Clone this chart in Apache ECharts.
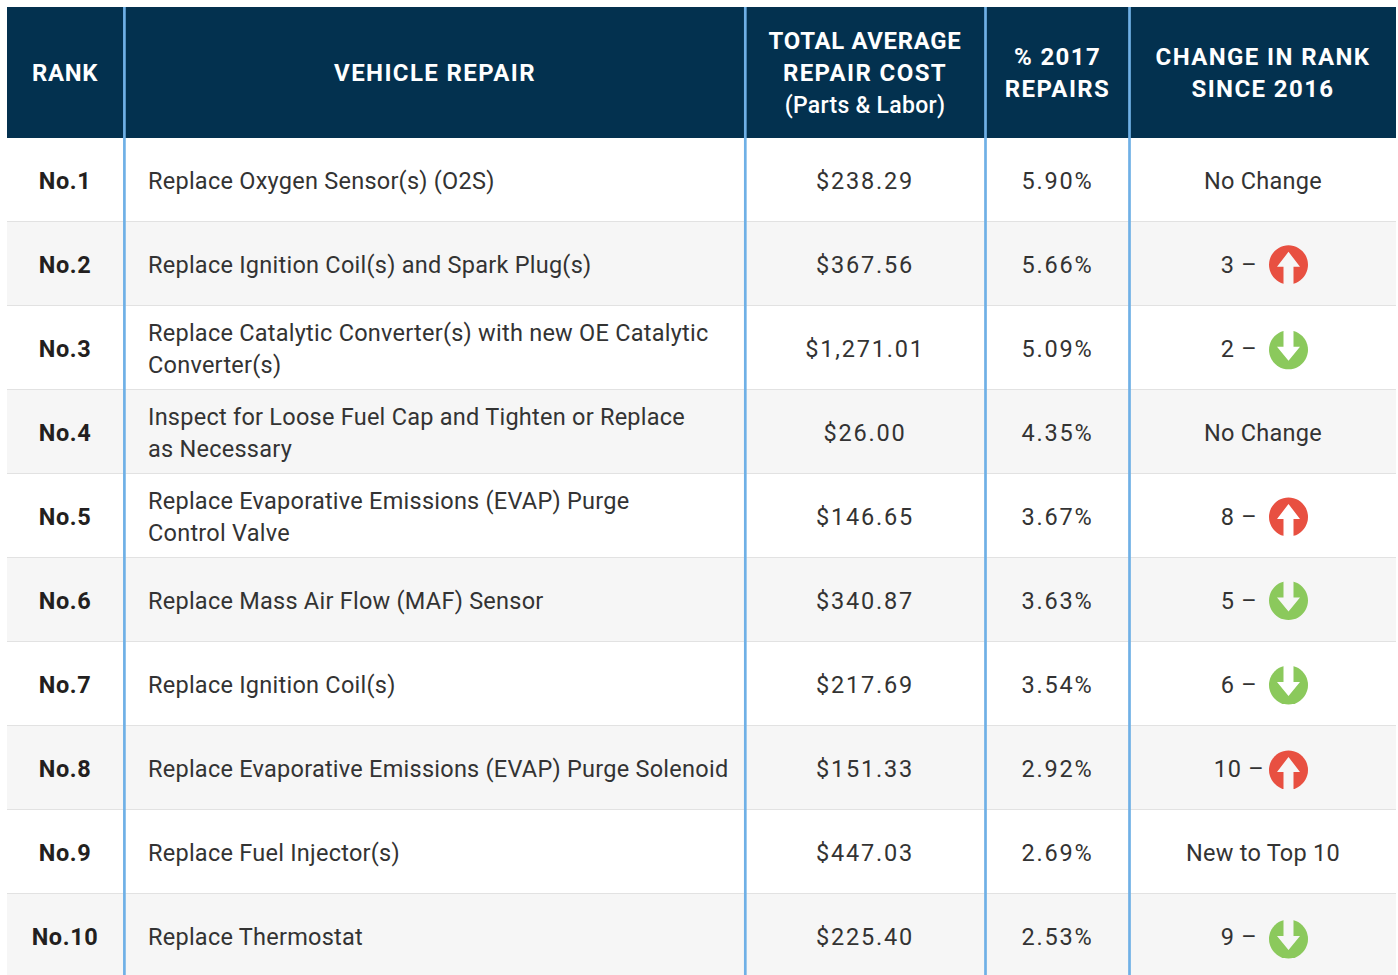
<!DOCTYPE html>
<html><head><meta charset="utf-8">
<style>
html,body{margin:0;padding:0;background:#fff}
#c{width:1398px;height:975px}
svg text{letter-spacing:.25px}
svg text[style*="23.51px"]{letter-spacing:1.8px}
svg text[style*="23.52px"]{letter-spacing:.72px}
svg text[style*="bold 24px"]{letter-spacing:1.4px}
svg text[style*="bold 23.9px"]{letter-spacing:.7px}
svg text[style*="bold 23.5px"]{letter-spacing:.6px}
svg text[style*="500 23px"]{letter-spacing:.3px}
</style>
<script src="https://cdn.jsdelivr.net/npm/echarts@6/dist/echarts.min.js"></script>
</head><body><div id="c"></div>
<script>
// ---- data ----
const headers = [["RANK"],["VEHICLE REPAIR"],["TOTAL AVERAGE","REPAIR COST","(Parts & Labor)"],["% 2017","REPAIRS"],["CHANGE IN RANK","SINCE 2016"]];
const ranks = ["No.1","No.2","No.3","No.4","No.5","No.6","No.7","No.8","No.9","No.10"];
const repairs = [
 ["Replace Oxygen Sensor(s) (O2S)"],
 ["Replace Ignition Coil(s) and Spark Plug(s)"],
 ["Replace Catalytic Converter(s) with new OE Catalytic","Converter(s)"],
 ["Inspect for Loose Fuel Cap and Tighten or Replace","as Necessary"],
 ["Replace Evaporative Emissions (EVAP) Purge","Control Valve"],
 ["Replace Mass Air Flow (MAF) Sensor"],
 ["Replace Ignition Coil(s)"],
 ["Replace Evaporative Emissions (EVAP) Purge Solenoid"],
 ["Replace Fuel Injector(s)"],
 ["Replace Thermostat"]];
const costs = ["$238.29","$367.56","$1,271.01","$26.00","$146.65","$340.87","$217.69","$151.33","$447.03","$225.40"];
const shares = ["5.90%","5.66%","5.09%","4.35%","3.67%","3.63%","3.54%","2.92%","2.69%","2.53%"];
const changeText = ["No Change","3 –","2 –","No Change","8 –","5 –","6 –","10 –","New to Top 10","9 –"];
const changeDir = [0,1,-1,0,1,-1,-1,1,0,-1];

// ---- layout ----
const W=1398,H=975,L=7,R=1396,HT=7,HB=138,RH=84;
const colEdges=[7,124.4,745.3,985.5,1129.5,1396];
const colCenters=[65,435,865,1057.5,1263];
const textLeft=148, changeCenter=1239, iconX=1288.5, iconR=19.5;
const iconNudge=[0,0.8,1.8,0,1,0.5,1,2,0,3];
const tightHeads=["RANK","TOTAL AVERAGE"];
const NAVY="#03314f",RULE="#6fb0e6",ALT="#f6f6f6",LINE="#e2e2e2",INK="#333333",RANKINK="#231f20";
const FONT="Roboto";
const rowTop=i=>HB+i*RH;

function text(api,x,y,s,font,fill,align){
  const p=api.coord([x,y]);
  return {type:'text',x:p[0],y:p[1],silent:true,style:{text:s,font:font,fill:fill,align:align||'center',verticalAlign:'middle'}};
}
function rect(api,x0,y0,x1,y1,fill){
  const a=api.coord([x0,y0]),b=api.coord([x1,y1]);
  return {type:'rect',shape:{x:a[0],y:a[1],width:b[0]-a[0],height:b[1]-a[1]},style:{fill:fill},silent:true};
}
function renderRow(params,api){
  const i=api.value(0), cy=rowTop(i)+RH/2+0.5, ch=[];
  ch.push(rect(api,L,rowTop(i),R,rowTop(i)+RH,i%2?ALT:"#ffffff"));
  if(i<ranks.length-1) ch.push(rect(api,L,rowTop(i)+RH-1,R,rowTop(i)+RH+1,LINE));
  const body="23.5px "+FONT, num="23.51px "+FONT, chg="23.52px "+FONT, rk="bold 23.5px "+FONT;
  ch.push(text(api,colCenters[0],cy,ranks[i],rk,RANKINK));
  const ls=repairs[i];
  ls.forEach((s,k)=>ch.push(text(api,textLeft,cy+(k-(ls.length-1)/2)*32,s,body,INK,'left')));
  ch.push(text(api,colCenters[2],cy,costs[i],num,INK));
  ch.push(text(api,colCenters[3],cy,shares[i],num,INK));
  const d=changeDir[i];
  if(!d){ ch.push(text(api,colCenters[4],cy,changeText[i],body,INK)); }
  else{
    ch.push(text(api,changeCenter,cy,changeText[i],chg,INK));
    const c=api.coord([iconX,rowTop(i)+RH/2+iconNudge[i]]);
    ch.push({type:'circle',shape:{cx:c[0],cy:c[1],r:iconR},style:{fill:d>0?"#e85041":"#8bc95c"},silent:true});
    const ty=d>0?-13:11, by=d>0?2:-3, ey=d>0?20.5:-20.5;
    const pts=[[0,ty],[11.5,by],[5,by],[5,ey],[-5,ey],[-5,by],[-11.5,by]].map(q=>[c[0]+q[0],c[1]+q[1]]);
    ch.push({type:'polygon',shape:{points:pts},style:{fill:i%2?ALT:"#ffffff"},silent:true});
  }
  return {type:'group',children:ch};
}
function renderHead(params,api){
  const j=api.value(0), cy=(HT+HB)/2, ch=[];
  const ls=headers[j];
  ch.push(rect(api,colEdges[j],HT,colEdges[j+1],HB,NAVY));
  const step=ls.length===3?32.5:32;
  ls.forEach((s,k)=>{
    const paren=s[0]==="(";
    const f=paren?"500 23px "+FONT:(tightHeads.includes(s)?"bold 23.9px ":"bold 24px ")+FONT;
    ch.push(text(api,colCenters[j],cy+(k-(ls.length-1)/2)*step+0.5,s,f,"#ffffff"));
  });
  return {type:'group',children:ch};
}
function renderRule(params,api){
  const x=api.value(0);
  return rect(api,x-1.35,HT,x+1.35,H,RULE);
}
const chart=echarts.init(document.getElementById('c'),null,{renderer:'svg',width:W,height:H});
chart.setOption({
  animation:false,
  grid:{left:0,top:0,width:W,height:H,containLabel:false},
  xAxis:{type:'value',min:0,max:W,show:false},
  yAxis:{type:'value',min:0,max:H,inverse:true,show:false},
  series:[
    {type:'custom',coordinateSystem:'cartesian2d',clip:false,renderItem:renderRow,data:ranks.map((_,i)=>[i]),encode:{x:[],y:[]}},
    {type:'custom',coordinateSystem:'cartesian2d',clip:false,renderItem:renderHead,data:headers.map((_,j)=>[j]),encode:{x:[],y:[]}},
    {type:'custom',coordinateSystem:'cartesian2d',clip:false,renderItem:renderRule,data:colEdges.slice(1,5).map(x=>[x]),encode:{x:[],y:[]}}
  ]
});
</script></body></html>
